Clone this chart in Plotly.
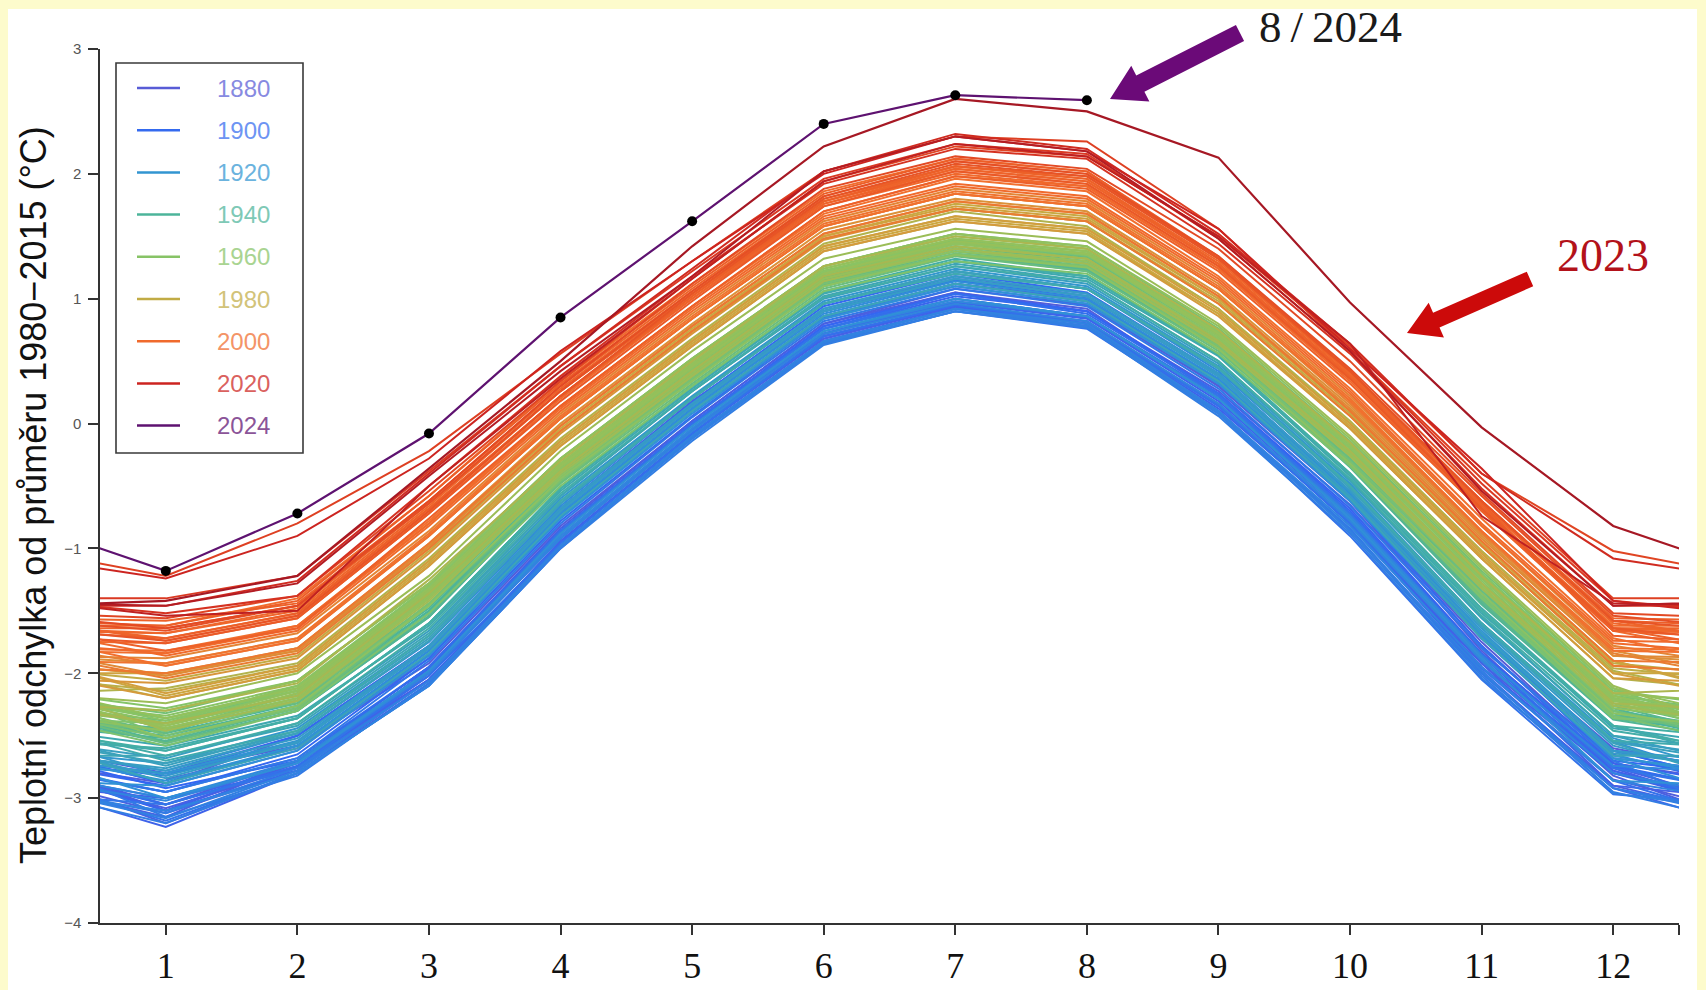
import plotly.graph_objects as go

# ---------------- data ----------------
months = list(range(1, 13))
month_labels = [str(m) for m in months]
y_ticks = [-4, -3, -2, -1, 0, 1, 2, 3]
legend_years = [1880, 1900, 1920, 1940, 1960, 1980, 2000, 2020, 2024]

t1880s = [
    [-2.85, -2.60, -1.88, -0.72, 0.10, 0.85, 1.12, 1.00, 0.30, -0.60, -1.75, -2.72],
    [-2.88, -2.50, -1.78, -0.68, 0.18, 0.90, 1.18, 1.02, 0.38, -0.55, -1.70, -2.60],
    [-2.80, -2.58, -1.92, -0.82, 0.02, 0.80, 1.08, 0.95, 0.30, -0.62, -1.82, -2.78],
    [-3.05, -2.70, -1.95, -0.86, 0.00, 0.78, 1.05, 0.92, 0.22, -0.72, -1.85, -2.72],
    [-3.10, -2.72, -2.05, -0.95, -0.08, 0.70, 0.95, 0.82, 0.15, -0.80, -1.95, -2.85],
    [-3.12, -2.78, -2.00, -0.92, -0.05, 0.68, 0.95, 0.80, 0.16, -0.78, -1.92, -2.80],
    [-3.08, -2.75, -2.02, -0.88, 0.00, 0.72, 0.98, 0.85, 0.20, -0.74, -1.88, -2.82],
    [-3.20, -2.80, -2.08, -0.98, -0.10, 0.66, 0.92, 0.78, 0.10, -0.85, -2.00, -2.90],
    [-3.15, -2.70, -1.95, -0.84, 0.02, 0.80, 1.05, 0.90, 0.26, -0.65, -1.80, -2.68],
    [-2.80, -2.50, -1.80, -0.70, 0.15, 0.90, 1.15, 1.00, 0.35, -0.60, -1.78, -2.75],
]
t1890s = [
    [-3.05, -2.75, -2.05, -0.95, -0.08, 0.68, 0.94, 0.80, 0.15, -0.80, -1.92, -2.90],
    [-3.00, -2.78, -1.98, -0.90, -0.04, 0.72, 1.00, 0.86, 0.20, -0.74, -1.90, -2.76],
    [-3.10, -2.70, -2.06, -0.94, -0.08, 0.70, 0.94, 0.82, 0.14, -0.80, -1.98, -2.92],
    [-3.23, -2.80, -2.05, -0.98, -0.12, 0.66, 0.93, 0.80, 0.12, -0.78, -1.95, -2.80],
    [-3.00, -2.72, -1.98, -0.92, -0.06, 0.72, 0.97, 0.84, 0.18, -0.76, -1.90, -2.78],
    [-3.10, -2.78, -1.96, -0.86, 0.00, 0.76, 1.02, 0.90, 0.24, -0.68, -1.84, -2.72],
    [-2.90, -2.62, -1.85, -0.75, 0.10, 0.86, 1.12, 0.98, 0.34, -0.58, -1.72, -2.62],
    [-2.88, -2.58, -1.82, -0.72, 0.12, 0.90, 1.15, 1.00, 0.35, -0.58, -1.72, -2.65],
    [-2.92, -2.70, -1.95, -0.86, 0.00, 0.78, 1.04, 0.90, 0.24, -0.70, -1.85, -2.75],
    [-2.95, -2.65, -1.88, -0.78, 0.06, 0.84, 1.10, 0.96, 0.32, -0.58, -1.70, -2.70],
]
t1900s = [
    [-2.82, -2.50, -1.78, -0.68, 0.17, 0.94, 1.20, 1.05, 0.40, -0.54, -1.68, -2.62],
    [-2.88, -2.58, -1.85, -0.75, 0.10, 0.86, 1.12, 0.98, 0.32, -0.62, -1.78, -2.74],
    [-2.95, -2.68, -1.95, -0.86, 0.00, 0.76, 1.04, 0.88, 0.24, -0.72, -1.86, -2.80],
    [-3.05, -2.74, -2.02, -0.96, -0.08, 0.70, 0.95, 0.80, 0.14, -0.80, -1.96, -2.86],
    [-3.18, -2.80, -2.10, -1.00, -0.10, 0.64, 0.90, 0.76, 0.08, -0.90, -2.05, -2.97],
    [-3.05, -2.76, -1.98, -0.86, -0.02, 0.76, 1.00, 0.86, 0.22, -0.72, -1.85, -2.76],
    [-2.95, -2.68, -1.90, -0.80, 0.05, 0.82, 1.08, 0.94, 0.28, -0.66, -1.80, -2.70],
    [-3.15, -2.82, -2.08, -0.98, -0.10, 0.66, 0.92, 0.78, 0.10, -0.84, -2.00, -2.92],
    [-3.12, -2.76, -2.06, -0.98, -0.12, 0.64, 0.90, 0.78, 0.10, -0.86, -2.02, -2.95],
    [-3.20, -2.80, -2.10, -1.00, -0.14, 0.63, 0.90, 0.77, 0.06, -0.88, -2.04, -2.92],
]
t1910s = [
    [-3.16, -2.78, -2.06, -0.98, -0.12, 0.65, 0.92, 0.78, 0.08, -0.86, -1.98, -2.96],
    [-3.10, -2.80, -2.10, -0.98, -0.10, 0.66, 0.92, 0.80, 0.10, -0.82, -1.95, -2.86],
    [-3.02, -2.72, -2.00, -0.92, -0.06, 0.72, 0.96, 0.82, 0.16, -0.78, -1.90, -2.80],
    [-3.00, -2.70, -1.98, -0.90, -0.04, 0.74, 0.98, 0.86, 0.20, -0.74, -1.86, -2.74],
    [-2.80, -2.55, -1.80, -0.70, 0.14, 0.90, 1.16, 1.02, 0.38, -0.56, -1.70, -2.62],
    [-2.78, -2.48, -1.75, -0.66, 0.20, 0.96, 1.22, 1.08, 0.42, -0.50, -1.62, -2.55],
    [-2.88, -2.58, -1.82, -0.72, 0.12, 0.88, 1.14, 1.00, 0.36, -0.60, -1.72, -2.68],
    [-3.00, -2.72, -1.98, -0.88, -0.02, 0.74, 1.00, 0.86, 0.20, -0.76, -1.88, -2.86],
    [-2.90, -2.62, -1.86, -0.76, 0.08, 0.84, 1.10, 0.96, 0.32, -0.62, -1.72, -2.66],
    [-2.86, -2.58, -1.84, -0.74, 0.10, 0.86, 1.12, 0.98, 0.34, -0.60, -1.70, -2.68],
]
t1920s = [
    [-2.80, -2.54, -1.78, -0.68, 0.16, 0.92, 1.18, 1.04, 0.40, -0.55, -1.66, -2.62],
    [-2.72, -2.44, -1.70, -0.60, 0.22, 0.98, 1.24, 1.10, 0.46, -0.48, -1.60, -2.52],
    [-2.82, -2.56, -1.80, -0.70, 0.14, 0.90, 1.16, 1.02, 0.38, -0.58, -1.68, -2.62],
    [-2.78, -2.52, -1.78, -0.68, 0.16, 0.92, 1.18, 1.04, 0.40, -0.54, -1.64, -2.58],
    [-2.84, -2.55, -1.80, -0.70, 0.14, 0.90, 1.16, 1.02, 0.38, -0.58, -1.68, -2.64],
    [-2.76, -2.48, -1.74, -0.64, 0.20, 0.96, 1.22, 1.08, 0.44, -0.50, -1.60, -2.54],
    [-2.68, -2.40, -1.66, -0.58, 0.26, 1.00, 1.26, 1.12, 0.48, -0.46, -1.56, -2.50],
    [-2.74, -2.46, -1.72, -0.62, 0.21, 0.96, 1.22, 1.08, 0.45, -0.50, -1.60, -2.55],
    [-2.72, -2.48, -1.74, -0.64, 0.20, 0.96, 1.22, 1.08, 0.44, -0.52, -1.62, -2.56],
    [-2.88, -2.60, -1.84, -0.74, 0.10, 0.86, 1.12, 0.98, 0.34, -0.60, -1.72, -2.66],
]
t1930s = [
    [-2.66, -2.42, -1.68, -0.58, 0.26, 1.02, 1.28, 1.14, 0.50, -0.45, -1.55, -2.50],
    [-2.62, -2.36, -1.60, -0.52, 0.30, 1.05, 1.30, 1.18, 0.55, -0.40, -1.50, -2.44],
    [-2.58, -2.34, -1.62, -0.54, 0.28, 1.04, 1.30, 1.16, 0.54, -0.42, -1.52, -2.42],
    [-2.70, -2.46, -1.70, -0.62, 0.20, 0.96, 1.20, 1.08, 0.45, -0.50, -1.60, -2.54],
    [-2.60, -2.36, -1.60, -0.52, 0.30, 1.05, 1.30, 1.18, 0.56, -0.40, -1.48, -2.42],
    [-2.66, -2.40, -1.64, -0.56, 0.26, 1.01, 1.26, 1.14, 0.50, -0.44, -1.54, -2.46],
    [-2.62, -2.36, -1.60, -0.52, 0.30, 1.06, 1.32, 1.18, 0.55, -0.40, -1.50, -2.42],
    [-2.52, -2.28, -1.52, -0.44, 0.38, 1.12, 1.38, 1.26, 0.62, -0.32, -1.42, -2.34],
    [-2.48, -2.24, -1.50, -0.42, 0.40, 1.14, 1.40, 1.28, 0.64, -0.30, -1.40, -2.32],
    [-2.56, -2.30, -1.55, -0.47, 0.35, 1.10, 1.35, 1.22, 0.60, -0.34, -1.44, -2.36],
]
t1940s = [
    [-2.50, -2.26, -1.50, -0.42, 0.40, 1.15, 1.40, 1.28, 0.64, -0.30, -1.38, -2.30],
    [-2.46, -2.22, -1.48, -0.40, 0.42, 1.17, 1.42, 1.30, 0.66, -0.28, -1.36, -2.28],
    [-2.55, -2.30, -1.55, -0.47, 0.35, 1.10, 1.35, 1.23, 0.60, -0.35, -1.45, -2.37],
    [-2.54, -2.28, -1.54, -0.46, 0.36, 1.11, 1.36, 1.24, 0.61, -0.34, -1.44, -2.36],
    [-2.44, -2.20, -1.45, -0.37, 0.45, 1.20, 1.45, 1.33, 0.70, -0.25, -1.34, -2.26],
    [-2.52, -2.26, -1.52, -0.44, 0.38, 1.13, 1.38, 1.26, 0.63, -0.32, -1.42, -2.34],
    [-2.46, -2.22, -1.38, -0.42, 0.40, 1.16, 1.40, 1.30, 0.66, -0.24, -1.32, -2.26],
    [-2.38, -2.14, -1.38, -0.33, 0.45, 1.20, 1.44, 1.36, 0.72, -0.18, -1.22, -2.24],
    [-2.48, -2.16, -1.36, -0.38, 0.42, 1.18, 1.42, 1.32, 0.68, -0.24, -1.28, -2.20],
    [-2.44, -2.24, -1.44, -0.40, 0.38, 1.13, 1.40, 1.28, 0.62, -0.28, -1.34, -2.30],
]
t1950s = [
    [-2.56, -2.30, -1.46, -0.48, 0.32, 1.08, 1.34, 1.22, 0.58, -0.32, -1.40, -2.36],
    [-2.46, -2.16, -1.40, -0.36, 0.44, 1.18, 1.44, 1.34, 0.70, -0.20, -1.24, -2.20],
    [-2.36, -2.12, -1.30, -0.32, 0.48, 1.22, 1.47, 1.36, 0.72, -0.18, -1.24, -2.18],
    [-2.32, -2.06, -1.28, -0.28, 0.52, 1.26, 1.52, 1.42, 0.76, -0.14, -1.18, -2.12],
    [-2.50, -2.22, -1.46, -0.44, 0.36, 1.12, 1.36, 1.26, 0.62, -0.30, -1.32, -2.30],
    [-2.52, -2.28, -1.44, -0.46, 0.34, 1.10, 1.36, 1.26, 0.60, -0.32, -1.38, -2.34],
    [-2.58, -2.30, -1.52, -0.50, 0.30, 1.06, 1.30, 1.20, 0.56, -0.34, -1.40, -2.36],
    [-2.40, -2.14, -1.32, -0.34, 0.46, 1.22, 1.48, 1.38, 0.74, -0.16, -1.20, -2.14],
    [-2.28, -2.06, -1.28, -0.28, 0.52, 1.26, 1.52, 1.40, 0.74, -0.16, -1.20, -2.16],
    [-2.36, -2.14, -1.32, -0.34, 0.46, 1.22, 1.46, 1.36, 0.72, -0.18, -1.22, -2.20],
]
t1960s = [
    [-2.42, -2.18, -1.36, -0.36, 0.44, 1.20, 1.45, 1.35, 0.70, -0.22, -1.26, -2.22],
    [-2.34, -2.10, -1.30, -0.30, 0.50, 1.24, 1.50, 1.40, 0.74, -0.16, -1.22, -2.16],
    [-2.38, -2.12, -1.34, -0.32, 0.48, 1.22, 1.46, 1.36, 0.72, -0.20, -1.24, -2.18],
    [-2.40, -2.10, -1.34, -0.34, 0.46, 1.22, 1.48, 1.38, 0.74, -0.16, -1.22, -2.20],
    [-2.52, -2.26, -1.46, -0.44, 0.34, 1.10, 1.35, 1.25, 0.60, -0.32, -1.36, -2.32],
    [-2.46, -2.22, -1.40, -0.42, 0.38, 1.14, 1.38, 1.28, 0.64, -0.26, -1.30, -2.28],
    [-2.40, -2.18, -1.38, -0.36, 0.42, 1.18, 1.44, 1.32, 0.68, -0.22, -1.28, -2.22],
    [-2.42, -2.14, -1.34, -0.35, 0.45, 1.20, 1.45, 1.36, 0.70, -0.18, -1.24, -2.20],
    [-2.44, -2.20, -1.38, -0.38, 0.42, 1.16, 1.42, 1.32, 0.66, -0.24, -1.28, -2.22],
    [-2.30, -2.06, -1.28, -0.28, 0.52, 1.26, 1.52, 1.42, 0.78, -0.12, -1.16, -2.12],
]
t1970s = [
    [-2.36, -2.12, -1.32, -0.32, 0.48, 1.24, 1.48, 1.38, 0.72, -0.16, -1.22, -2.18],
    [-2.44, -2.20, -1.40, -0.38, 0.40, 1.16, 1.40, 1.30, 0.66, -0.24, -1.30, -2.24],
    [-2.42, -2.16, -1.34, -0.34, 0.46, 1.20, 1.46, 1.36, 0.72, -0.16, -1.22, -2.16],
    [-2.24, -2.00, -1.22, -0.22, 0.58, 1.32, 1.56, 1.46, 0.80, -0.10, -1.14, -2.10],
    [-2.46, -2.22, -1.42, -0.40, 0.38, 1.14, 1.40, 1.28, 0.64, -0.26, -1.32, -2.26],
    [-2.40, -2.18, -1.36, -0.38, 0.42, 1.18, 1.42, 1.32, 0.66, -0.22, -1.28, -2.24],
    [-2.30, -2.08, -1.25, -0.30, 0.50, 1.26, 1.50, 1.40, 0.75, -0.15, -1.22, -2.16],
    [-2.12, -1.92, -1.08, -0.12, 0.68, 1.44, 1.70, 1.58, 0.92, 0.02, -1.02, -1.98],
    [-2.20, -1.98, -1.14, -0.18, 0.62, 1.38, 1.62, 1.52, 0.88, -0.04, -1.08, -2.04],
    [-2.14, -1.94, -1.10, -0.14, 0.66, 1.42, 1.66, 1.56, 0.92, 0.00, -1.02, -1.96],
]
t1980s = [
    [-2.06, -1.86, -1.02, -0.06, 0.74, 1.48, 1.72, 1.62, 0.98, 0.08, -0.98, -1.92],
    [-2.02, -1.80, -0.98, -0.04, 0.76, 1.50, 1.76, 1.66, 1.00, 0.10, -0.95, -1.90],
    [-2.18, -1.96, -1.12, -0.16, 0.64, 1.40, 1.64, 1.54, 0.88, -0.02, -1.06, -2.00],
    [-2.00, -1.82, -1.00, -0.06, 0.74, 1.50, 1.74, 1.64, 1.00, 0.10, -0.96, -1.90],
    [-2.16, -1.94, -1.10, -0.14, 0.66, 1.42, 1.66, 1.56, 0.90, 0.00, -1.04, -2.00],
    [-2.20, -1.98, -1.14, -0.18, 0.62, 1.38, 1.62, 1.52, 0.86, -0.04, -1.08, -2.04],
    [-2.08, -1.88, -1.04, -0.08, 0.72, 1.47, 1.72, 1.62, 0.96, 0.06, -0.98, -1.94],
    [-2.00, -1.80, -0.96, 0.00, 0.80, 1.55, 1.80, 1.70, 1.04, 0.14, -0.90, -1.86],
    [-1.92, -1.72, -0.90, 0.04, 0.84, 1.58, 1.84, 1.74, 1.08, 0.18, -0.88, -1.82],
    [-2.02, -1.82, -0.98, -0.02, 0.78, 1.52, 1.78, 1.68, 1.02, 0.12, -0.92, -1.86],
]
t1990s = [
    [-1.88, -1.68, -0.86, 0.08, 0.88, 1.62, 1.88, 1.78, 1.12, 0.22, -0.82, -1.78],
    [-1.94, -1.74, -0.90, 0.04, 0.84, 1.58, 1.84, 1.74, 1.08, 0.16, -0.88, -1.84],
    [-2.04, -1.84, -1.00, -0.06, 0.74, 1.48, 1.72, 1.62, 0.96, 0.06, -0.98, -1.94],
    [-2.00, -1.80, -0.96, -0.02, 0.78, 1.52, 1.78, 1.68, 1.02, 0.10, -0.94, -1.90],
    [-1.92, -1.72, -0.88, 0.06, 0.86, 1.60, 1.86, 1.76, 1.10, 0.20, -0.86, -1.80],
    [-1.82, -1.62, -0.78, 0.14, 0.94, 1.68, 1.96, 1.86, 1.18, 0.28, -0.76, -1.72],
    [-1.94, -1.74, -0.90, 0.04, 0.84, 1.58, 1.84, 1.74, 1.08, 0.18, -0.86, -1.82],
    [-1.84, -1.64, -0.80, 0.14, 0.94, 1.70, 1.98, 1.90, 1.24, 0.36, -0.68, -1.62],
    [-1.62, -1.40, -0.58, 0.34, 1.12, 1.86, 2.12, 2.02, 1.32, 0.40, -0.68, -1.66],
    [-1.86, -1.66, -0.82, 0.10, 0.90, 1.64, 1.90, 1.80, 1.14, 0.24, -0.82, -1.76],
]
t2000s = [
    [-1.84, -1.62, -0.80, 0.12, 0.92, 1.66, 1.92, 1.82, 1.16, 0.26, -0.80, -1.74],
    [-1.76, -1.56, -0.72, 0.20, 1.00, 1.74, 2.00, 1.90, 1.24, 0.34, -0.70, -1.66],
    [-1.68, -1.48, -0.64, 0.26, 1.04, 1.78, 2.04, 1.94, 1.28, 0.38, -0.68, -1.64],
    [-1.68, -1.50, -0.66, 0.26, 1.04, 1.78, 2.06, 1.96, 1.30, 0.40, -0.64, -1.60],
    [-1.72, -1.52, -0.68, 0.22, 1.02, 1.76, 2.02, 1.92, 1.26, 0.36, -0.68, -1.64],
    [-1.64, -1.46, -0.62, 0.30, 1.08, 1.82, 2.10, 2.00, 1.32, 0.42, -0.62, -1.58],
    [-1.74, -1.54, -0.70, 0.22, 1.00, 1.76, 2.04, 1.94, 1.28, 0.38, -0.62, -1.56],
    [-1.58, -1.44, -0.62, 0.28, 1.06, 1.80, 2.06, 1.96, 1.28, 0.38, -0.66, -1.64],
    [-1.82, -1.64, -0.76, 0.14, 0.94, 1.70, 1.98, 1.88, 1.22, 0.32, -0.70, -1.66],
    [-1.72, -1.52, -0.68, 0.22, 1.02, 1.78, 2.06, 1.98, 1.32, 0.42, -0.62, -1.58],
]
t2010s = [
    [-1.62, -1.42, -0.58, 0.32, 1.10, 1.84, 2.12, 2.02, 1.34, 0.42, -0.64, -1.70],
    [-1.76, -1.56, -0.72, 0.18, 0.98, 1.74, 2.02, 1.92, 1.26, 0.36, -0.68, -1.64],
    [-1.74, -1.54, -0.70, 0.22, 1.04, 1.80, 2.08, 1.98, 1.32, 0.42, -0.62, -1.58],
    [-1.66, -1.46, -0.64, 0.26, 1.06, 1.82, 2.10, 2.00, 1.34, 0.44, -0.58, -1.54],
    [-1.64, -1.46, -0.62, 0.30, 1.12, 1.88, 2.14, 2.04, 1.40, 0.50, -0.56, -1.52],
    [-1.56, -1.38, -0.54, 0.34, 1.16, 1.94, 2.22, 2.14, 1.50, 0.62, -0.40, -1.02],
    [-1.22, -0.80, -0.22, 0.56, 1.30, 2.02, 2.30, 2.26, 1.56, 0.58, -0.44, -1.40],
    [-1.40, -1.22, -0.38, 0.46, 1.22, 1.96, 2.24, 2.16, 1.48, 0.58, -0.48, -1.42],
    [-1.52, -1.38, -0.50, 0.38, 1.18, 1.92, 2.20, 2.12, 1.44, 0.56, -0.52, -1.46],
    [-1.46, -1.26, -0.40, 0.46, 1.24, 2.02, 2.32, 2.20, 1.52, 0.64, -0.40, -1.08],
]
t2020s = [
    [-1.24, -0.90, -0.28, 0.58, 1.30, 2.00, 2.30, 2.18, 1.56, 0.60, -0.36, -1.42],
    [-1.54, -1.50, -0.50, 0.36, 1.16, 1.94, 2.24, 2.14, 1.50, 0.64, -0.74, -1.44],
    [-1.46, -1.28, -0.42, 0.42, 1.18, 2.02, 2.30, 2.18, 1.48, 0.58, -0.54, -1.46],
    [-1.42, -1.22, -0.36, 0.50, 1.42, 2.22, 2.60, 2.50, 2.13, 0.97, -0.03, -0.82],
    [-1.18, -0.72, -0.08, 0.85, 1.62, 2.40, 2.63, 2.59],
]

decades = [(1880, t1880s), (1890, t1890s), (1900, t1900s), (1910, t1910s),
           (1920, t1920s), (1930, t1930s), (1940, t1940s), (1950, t1950s),
           (1960, t1960s), (1970, t1970s), (1980, t1980s), (1990, t1990s),
           (2000, t2000s), (2010, t2010s), (2020, t2020s)]

years, series = [], []
for start, rows in decades:
    for k, row in enumerate(rows):
        years.append(start + k)
        series.append(row)

# ---------------- styling ----------------
stops = [(1880, (88, 92, 214)), (1898, (52, 102, 242)), (1918, (48, 146, 214)),
         (1938, (70, 178, 160)), (1958, (132, 196, 104)), (1972, (150, 192, 90)),
         (1982, (204, 166, 64)), (1995, (242, 112, 46)), (2010, (236, 94, 40)),
         (2016, (222, 64, 34)), (2020, (204, 36, 32)), (2023, (166, 24, 36)),
         (2024, (94, 18, 112))]


def year_rgb(yr):
    for (y0, c0), (y1, c1) in zip(stops, stops[1:]):
        if y0 <= yr <= y1:
            f = (yr - y0) / (y1 - y0)
            return tuple(round(a + (b - a) * f) for a, b in zip(c0, c1))
    return stops[-1][1]


def css(c):
    return "rgb(%d,%d,%d)" % c


def lighten(c, f=0.3):
    return tuple(round(v + (255 - v) * f) for v in c)


W, H = 1706, 990
L, R, T, B = 100, 27, 49, 67
PW, PH = W - L - R, H - T - B


def px(x):
    return (x - L) / PW


def py(y):
    return (H - B - y) / PH


fig = go.Figure()
n = len(years)
for i, (yr, vals) in enumerate(zip(years, series)):
    xs = months[:len(vals)]
    ys = list(vals)
    if i > 0 and len(series[i - 1]) == 12:
        xs = [0] + xs
        ys = [series[i - 1][11]] + ys
    if len(vals) == 12 and i + 1 < n:
        xs = xs + [13]
        ys = ys + [series[i + 1][0]]
    fig.add_trace(go.Scatter(
        x=xs, y=ys, mode="lines",
        line=dict(color=css(year_rgb(yr)), width=2.2 if yr >= 2023 else 2),
        hoverinfo="skip", showlegend=False))

# 2024 monthly points
fig.add_trace(go.Scatter(
    x=months[:len(series[-1])], y=series[-1], mode="markers",
    marker=dict(color="black", size=10), hoverinfo="skip", showlegend=False))

shapes = []
annotations = []

# outer frame: white page inside a pale yellow border
shapes.append(dict(type="rect", xref="paper", yref="paper", layer="below",
                   x0=px(8), x1=px(1697), y0=py(992), y1=py(9),
                   fillcolor="white", line=dict(width=0)))

# legend box
lx0, lx1, ly0, ly1 = 116, 303, 63, 453
shapes.append(dict(type="rect", xref="paper", yref="paper",
                   x0=px(lx0), x1=px(lx1), y0=py(ly1), y1=py(ly0),
                   fillcolor="white", line=dict(color="#3a3a3a", width=1.6)))
for k, ly in enumerate(legend_years):
    yy = 88 + 42.2 * k
    c = year_rgb(ly)
    shapes.append(dict(type="line", xref="paper", yref="paper",
                       x0=px(137), x1=px(180), y0=py(yy), y1=py(yy),
                       line=dict(color=css(c), width=2.5)))
    annotations.append(dict(xref="paper", yref="paper", x=px(215), y=py(yy),
                            text=str(ly), showarrow=False, xanchor="left",
                            yanchor="middle",
                            font=dict(family="Liberation Sans, Arial", size=24,
                                      color=css(lighten(c, 0.28)))))


def arrow_path(tx, ty, hx, hy, w, hw, hl):
    dx, dy = hx - tx, hy - ty
    d = (dx * dx + dy * dy) ** 0.5
    ux, uy = dx / d, dy / d
    nx, ny = -uy, ux
    bx, by = hx - ux * hl, hy - uy * hl
    pts = [(tx + nx * w, ty + ny * w), (bx + nx * w, by + ny * w),
           (bx + nx * hw, by + ny * hw), (hx, hy),
           (bx - nx * hw, by - ny * hw), (bx - nx * w, by - ny * w),
           (tx - nx * w, ty - ny * w)]
    return "M " + " L ".join("%.5f,%.5f" % (px(a), py(b)) for a, b in pts) + " Z"


shapes.append(dict(type="path", xref="paper", yref="paper",
                   path=arrow_path(1240, 33, 1110, 99, 9, 20, 34),
                   fillcolor="#6b0a78", line=dict(width=0)))
shapes.append(dict(type="path", xref="paper", yref="paper",
                   path=arrow_path(1530, 279, 1407, 333, 8, 19, 32),
                   fillcolor="#cc0a0a", line=dict(width=0)))

annotations.append(dict(xref="paper", yref="paper", x=px(1330), y=py(27),
                        text="8\u2009/\u20092024", showarrow=False,
                        xanchor="center", yanchor="middle",
                        font=dict(family="Liberation Serif, Times New Roman",
                                  size=45, color="#1a1a1a")))
annotations.append(dict(xref="paper", yref="paper", x=px(1603), y=py(255),
                        text="2023", showarrow=False, xanchor="center",
                        yanchor="middle",
                        font=dict(family="Liberation Serif, Times New Roman",
                                  size=46, color="#b3121a")))
annotations.append(dict(xref="paper", yref="paper", x=px(33), y=py(495),
                        text="Teplotní odchylka od průměru 1980−2015 (°C)",
                        textangle=-90, showarrow=False, xanchor="center",
                        yanchor="middle",
                        font=dict(family="Liberation Sans, Arial", size=36,
                                  color="#111111")))

fig.update_layout(
    width=W, height=H, autosize=False,
    margin=dict(l=L, r=R, t=T, b=B, pad=0, autoexpand=False),
    paper_bgcolor="#fdfbcc", plot_bgcolor="white",
    showlegend=False, shapes=shapes, annotations=annotations,
    xaxis=dict(range=[0.5, 12.5], tickvals=months + [12.5],
               ticktext=month_labels + [""], ticks="outside", ticklen=10,
               tickwidth=1.5, tickcolor="#333", showline=True, linecolor="#333",
               linewidth=2, showgrid=False, zeroline=False, automargin=False,
               tickfont=dict(family="Liberation Serif, Times New Roman",
                             size=36, color="#111")),
    yaxis=dict(range=[-4, 3], tickvals=y_ticks, ticks="outside", ticklen=10,
               tickwidth=1.5, tickcolor="#333", showline=True, linecolor="#333",
               linewidth=1.5, showgrid=False, zeroline=False, automargin=False,
               ticklabelstandoff=4,
               tickfont=dict(family="Liberation Sans, Arial", size=15,
                             color="#555")),
)

fig.write_html("out.html",
               config={"displayModeBar": False},
               post_script="document.body.style.margin='0px';"
                           "document.body.style.background='#fdfbcc';")
